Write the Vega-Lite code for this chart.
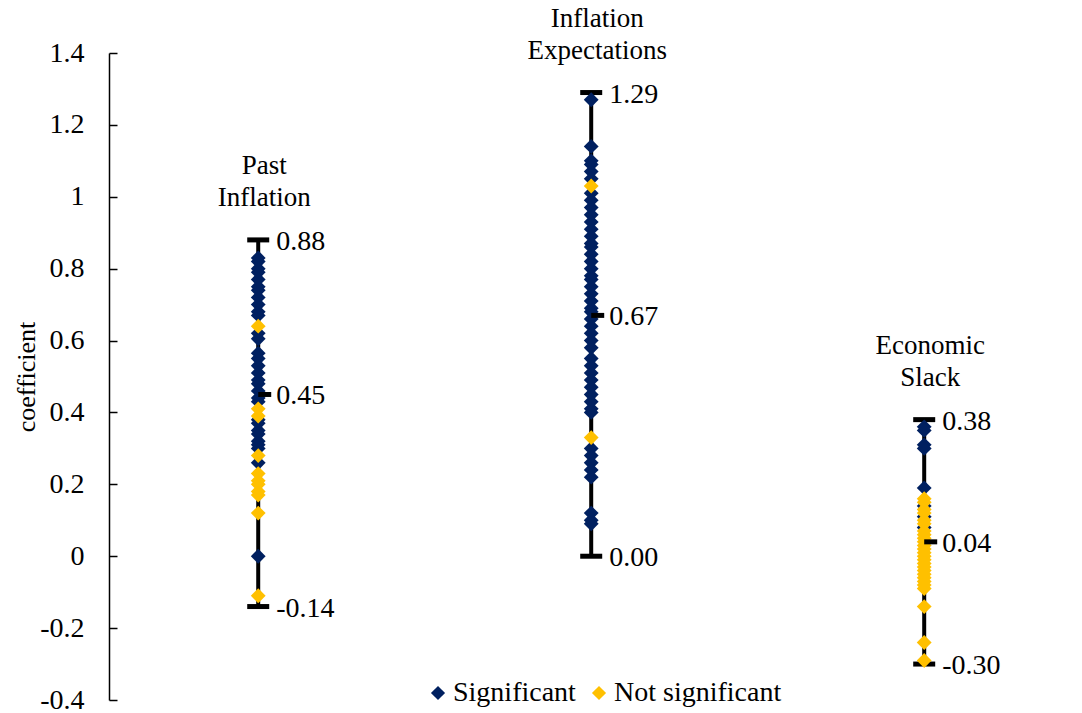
{
  "$schema": "https://vega.github.io/schema/vega-lite/v6.json",
  "width": 975,
  "height": 647,
  "autosize": {"type": "none"},
  "padding": {"left": 100, "top": 53, "right": 7, "bottom": 13},
  "background": "white",
  "config": {
    "view": {"stroke": null},
    "font": "Liberation Serif",
    "locale": {"number": {"decimal": ".", "thousands": ",", "grouping": [3], "currency": ["$", ""], "minus": "-"}}
  },
  "datasets": {
    "ranges": [
      {"category": "Past Inflation", "min": -0.14, "max": 0.88, "mean": 0.45},
      {"category": "Inflation Expectations", "min": 0.0, "max": 1.29, "mean": 0.67},
      {"category": "Economic Slack", "min": -0.30, "max": 0.38, "mean": 0.04}
    ],
    "points": [
      {"category": "Past Inflation", "value": 0.83, "group": "Significant"},
      {"category": "Past Inflation", "value": 0.82, "group": "Significant"},
      {"category": "Past Inflation", "value": 0.80, "group": "Significant"},
      {"category": "Past Inflation", "value": 0.79, "group": "Significant"},
      {"category": "Past Inflation", "value": 0.77, "group": "Significant"},
      {"category": "Past Inflation", "value": 0.75, "group": "Significant"},
      {"category": "Past Inflation", "value": 0.74, "group": "Significant"},
      {"category": "Past Inflation", "value": 0.72, "group": "Significant"},
      {"category": "Past Inflation", "value": 0.70, "group": "Significant"},
      {"category": "Past Inflation", "value": 0.68, "group": "Significant"},
      {"category": "Past Inflation", "value": 0.67, "group": "Significant"},
      {"category": "Past Inflation", "value": 0.62, "group": "Significant"},
      {"category": "Past Inflation", "value": 0.605, "group": "Significant"},
      {"category": "Past Inflation", "value": 0.565, "group": "Significant"},
      {"category": "Past Inflation", "value": 0.55, "group": "Significant"},
      {"category": "Past Inflation", "value": 0.53, "group": "Significant"},
      {"category": "Past Inflation", "value": 0.51, "group": "Significant"},
      {"category": "Past Inflation", "value": 0.49, "group": "Significant"},
      {"category": "Past Inflation", "value": 0.48, "group": "Significant"},
      {"category": "Past Inflation", "value": 0.46, "group": "Significant"},
      {"category": "Past Inflation", "value": 0.44, "group": "Significant"},
      {"category": "Past Inflation", "value": 0.43, "group": "Significant"},
      {"category": "Past Inflation", "value": 0.38, "group": "Significant"},
      {"category": "Past Inflation", "value": 0.37, "group": "Significant"},
      {"category": "Past Inflation", "value": 0.35, "group": "Significant"},
      {"category": "Past Inflation", "value": 0.34, "group": "Significant"},
      {"category": "Past Inflation", "value": 0.32, "group": "Significant"},
      {"category": "Past Inflation", "value": 0.31, "group": "Significant"},
      {"category": "Past Inflation", "value": 0.30, "group": "Significant"},
      {"category": "Past Inflation", "value": 0.26, "group": "Significant"},
      {"category": "Past Inflation", "value": 0.00, "group": "Significant"},
      {"category": "Inflation Expectations", "value": 1.27, "group": "Significant"},
      {"category": "Inflation Expectations", "value": 1.14, "group": "Significant"},
      {"category": "Inflation Expectations", "value": 1.10, "group": "Significant"},
      {"category": "Inflation Expectations", "value": 1.09, "group": "Significant"},
      {"category": "Inflation Expectations", "value": 1.07, "group": "Significant"},
      {"category": "Inflation Expectations", "value": 1.05, "group": "Significant"},
      {"category": "Inflation Expectations", "value": 1.01, "group": "Significant"},
      {"category": "Inflation Expectations", "value": 0.99, "group": "Significant"},
      {"category": "Inflation Expectations", "value": 0.97, "group": "Significant"},
      {"category": "Inflation Expectations", "value": 0.95, "group": "Significant"},
      {"category": "Inflation Expectations", "value": 0.93, "group": "Significant"},
      {"category": "Inflation Expectations", "value": 0.91, "group": "Significant"},
      {"category": "Inflation Expectations", "value": 0.89, "group": "Significant"},
      {"category": "Inflation Expectations", "value": 0.87, "group": "Significant"},
      {"category": "Inflation Expectations", "value": 0.86, "group": "Significant"},
      {"category": "Inflation Expectations", "value": 0.84, "group": "Significant"},
      {"category": "Inflation Expectations", "value": 0.82, "group": "Significant"},
      {"category": "Inflation Expectations", "value": 0.80, "group": "Significant"},
      {"category": "Inflation Expectations", "value": 0.78, "group": "Significant"},
      {"category": "Inflation Expectations", "value": 0.77, "group": "Significant"},
      {"category": "Inflation Expectations", "value": 0.75, "group": "Significant"},
      {"category": "Inflation Expectations", "value": 0.73, "group": "Significant"},
      {"category": "Inflation Expectations", "value": 0.71, "group": "Significant"},
      {"category": "Inflation Expectations", "value": 0.69, "group": "Significant"},
      {"category": "Inflation Expectations", "value": 0.68, "group": "Significant"},
      {"category": "Inflation Expectations", "value": 0.66, "group": "Significant"},
      {"category": "Inflation Expectations", "value": 0.64, "group": "Significant"},
      {"category": "Inflation Expectations", "value": 0.62, "group": "Significant"},
      {"category": "Inflation Expectations", "value": 0.60, "group": "Significant"},
      {"category": "Inflation Expectations", "value": 0.58, "group": "Significant"},
      {"category": "Inflation Expectations", "value": 0.55, "group": "Significant"},
      {"category": "Inflation Expectations", "value": 0.53, "group": "Significant"},
      {"category": "Inflation Expectations", "value": 0.51, "group": "Significant"},
      {"category": "Inflation Expectations", "value": 0.49, "group": "Significant"},
      {"category": "Inflation Expectations", "value": 0.47, "group": "Significant"},
      {"category": "Inflation Expectations", "value": 0.45, "group": "Significant"},
      {"category": "Inflation Expectations", "value": 0.43, "group": "Significant"},
      {"category": "Inflation Expectations", "value": 0.41, "group": "Significant"},
      {"category": "Inflation Expectations", "value": 0.40, "group": "Significant"},
      {"category": "Inflation Expectations", "value": 0.30, "group": "Significant"},
      {"category": "Inflation Expectations", "value": 0.28, "group": "Significant"},
      {"category": "Inflation Expectations", "value": 0.26, "group": "Significant"},
      {"category": "Inflation Expectations", "value": 0.24, "group": "Significant"},
      {"category": "Inflation Expectations", "value": 0.22, "group": "Significant"},
      {"category": "Inflation Expectations", "value": 0.12, "group": "Significant"},
      {"category": "Inflation Expectations", "value": 0.10, "group": "Significant"},
      {"category": "Inflation Expectations", "value": 0.09, "group": "Significant"},
      {"category": "Economic Slack", "value": 0.36, "group": "Significant"},
      {"category": "Economic Slack", "value": 0.35, "group": "Significant"},
      {"category": "Economic Slack", "value": 0.31, "group": "Significant"},
      {"category": "Economic Slack", "value": 0.30, "group": "Significant"},
      {"category": "Economic Slack", "value": 0.19, "group": "Significant"},
      {"category": "Economic Slack", "value": 0.14, "group": "Significant"},
      {"category": "Economic Slack", "value": 0.11, "group": "Significant"},
      {"category": "Economic Slack", "value": 0.08, "group": "Significant"},
      {"category": "Past Inflation", "value": 0.64, "group": "Not significant"},
      {"category": "Past Inflation", "value": 0.41, "group": "Not significant"},
      {"category": "Past Inflation", "value": 0.39, "group": "Not significant"},
      {"category": "Past Inflation", "value": 0.28, "group": "Not significant"},
      {"category": "Past Inflation", "value": 0.23, "group": "Not significant"},
      {"category": "Past Inflation", "value": 0.21, "group": "Not significant"},
      {"category": "Past Inflation", "value": 0.20, "group": "Not significant"},
      {"category": "Past Inflation", "value": 0.18, "group": "Not significant"},
      {"category": "Past Inflation", "value": 0.17, "group": "Not significant"},
      {"category": "Past Inflation", "value": 0.12, "group": "Not significant"},
      {"category": "Past Inflation", "value": -0.11, "group": "Not significant"},
      {"category": "Inflation Expectations", "value": 1.03, "group": "Not significant"},
      {"category": "Inflation Expectations", "value": 0.33, "group": "Not significant"},
      {"category": "Economic Slack", "value": 0.16, "group": "Not significant"},
      {"category": "Economic Slack", "value": 0.15, "group": "Not significant"},
      {"category": "Economic Slack", "value": 0.13, "group": "Not significant"},
      {"category": "Economic Slack", "value": 0.12, "group": "Not significant"},
      {"category": "Economic Slack", "value": 0.10, "group": "Not significant"},
      {"category": "Economic Slack", "value": 0.09, "group": "Not significant"},
      {"category": "Economic Slack", "value": 0.07, "group": "Not significant"},
      {"category": "Economic Slack", "value": 0.06, "group": "Not significant"},
      {"category": "Economic Slack", "value": 0.05, "group": "Not significant"},
      {"category": "Economic Slack", "value": 0.04, "group": "Not significant"},
      {"category": "Economic Slack", "value": 0.03, "group": "Not significant"},
      {"category": "Economic Slack", "value": 0.02, "group": "Not significant"},
      {"category": "Economic Slack", "value": 0.01, "group": "Not significant"},
      {"category": "Economic Slack", "value": 0.00, "group": "Not significant"},
      {"category": "Economic Slack", "value": -0.01, "group": "Not significant"},
      {"category": "Economic Slack", "value": -0.02, "group": "Not significant"},
      {"category": "Economic Slack", "value": -0.03, "group": "Not significant"},
      {"category": "Economic Slack", "value": -0.04, "group": "Not significant"},
      {"category": "Economic Slack", "value": -0.05, "group": "Not significant"},
      {"category": "Economic Slack", "value": -0.06, "group": "Not significant"},
      {"category": "Economic Slack", "value": -0.07, "group": "Not significant"},
      {"category": "Economic Slack", "value": -0.08, "group": "Not significant"},
      {"category": "Economic Slack", "value": -0.09, "group": "Not significant"},
      {"category": "Economic Slack", "value": -0.14, "group": "Not significant"},
      {"category": "Economic Slack", "value": -0.24, "group": "Not significant"},
      {"category": "Economic Slack", "value": -0.29, "group": "Not significant"}
    ]
  },
  "layer": [
    {
      "mark": {"type": "rule", "color": "#d9d9d9", "strokeWidth": 1.5},
      "encoding": {
        "y": {
          "datum": 0,
          "type": "quantitative",
          "title": "coefficient",
          "scale": {"domain": [-0.4, 1.4], "nice": false, "zero": false},
          "axis": {
            "values": [-0.4, -0.2, 0, 0.2, 0.4, 0.6, 0.8, 1, 1.2, 1.4],
            "format": ".1~f",
            "grid": false,
            "offset": -9,
            "domainColor": "black",
            "domainWidth": 1.5,
            "tickColor": "black",
            "tickWidth": 1.5,
            "tickSize": -8,
            "labelPadding": 33,
            "labelFont": "Liberation Serif",
            "labelFontSize": 28,
            "labelColor": "black",
            "labelFlush": false,
            "labelOverlap": false,
            "titleFont": "Liberation Serif",
            "titleFontSize": 26,
            "titleFontWeight": "normal",
            "titleColor": "black",
            "titlePadding": 0
          }
        }
      }
    },
    {
      "data": {"name": "ranges"},
      "mark": {"type": "rule", "color": "black", "strokeWidth": 4},
      "encoding": {
        "x": {"field": "category", "type": "nominal", "scale": {"type": "point", "domain": ["Past Inflation", "Inflation Expectations", "Economic Slack"], "padding": 0.464, "align": 0.512}, "axis": null},
        "y": {"field": "min", "type": "quantitative", "title": "coefficient"},
        "y2": {"field": "max"}
      }
    },
    {
      "data": {"name": "ranges"},
      "mark": {"type": "tick", "color": "black", "size": 22, "thickness": 5, "opacity": 1},
      "encoding": {
        "x": {"field": "category", "type": "nominal"},
        "y": {"field": "min", "type": "quantitative", "title": "coefficient"}
      }
    },
    {
      "data": {"name": "ranges"},
      "mark": {"type": "tick", "color": "black", "size": 22, "thickness": 5, "opacity": 1},
      "encoding": {
        "x": {"field": "category", "type": "nominal"},
        "y": {"field": "max", "type": "quantitative", "title": "coefficient"}
      }
    },
    {
      "data": {"name": "points"},
      "mark": {"type": "point", "shape": "diamond", "filled": true, "opacity": 1, "size": 220, "strokeWidth": 0},
      "encoding": {
        "x": {"field": "category", "type": "nominal"},
        "y": {"field": "value", "type": "quantitative", "title": "coefficient"},
        "color": {
          "field": "group",
          "type": "nominal",
          "scale": {"domain": ["Significant", "Not significant"], "range": ["#002060", "#FFC000"]},
          "legend": {
            "title": null,
            "orient": "none",
            "direction": "horizontal",
            "legendX": 324,
            "legendY": 626,
            "symbolType": "diamond",
            "symbolSize": 200,
            "symbolStrokeWidth": 0,
            "labelFont": "Liberation Serif",
            "labelFontSize": 28,
            "labelColor": "black",
            "labelLimit": 0,
            "labelOffset": 1,
            "columnPadding": 9
          }
        }
      }
    },
    {
      "data": {"name": "ranges"},
      "mark": {"type": "tick", "color": "black", "size": 13, "thickness": 5, "opacity": 1, "xOffset": 6.5},
      "encoding": {
        "x": {"field": "category", "type": "nominal"},
        "y": {"field": "mean", "type": "quantitative", "title": "coefficient"}
      }
    },
    {
      "data": {"name": "ranges"},
      "mark": {"type": "text", "align": "left", "baseline": "middle", "dx": 18, "dy": 2, "fontSize": 28, "color": "black"},
      "encoding": {
        "x": {"field": "category", "type": "nominal"},
        "y": {"field": "max", "type": "quantitative", "title": "coefficient"},
        "text": {"field": "max", "format": ".2f"}
      }
    },
    {
      "data": {"name": "ranges"},
      "mark": {"type": "text", "align": "left", "baseline": "middle", "dx": 18, "dy": 2, "fontSize": 28, "color": "black"},
      "encoding": {
        "x": {"field": "category", "type": "nominal"},
        "y": {"field": "min", "type": "quantitative", "title": "coefficient"},
        "text": {"field": "min", "format": ".2f"}
      }
    },
    {
      "data": {"name": "ranges"},
      "mark": {"type": "text", "align": "left", "baseline": "middle", "dx": 18, "dy": 2, "fontSize": 28, "color": "black"},
      "encoding": {
        "x": {"field": "category", "type": "nominal"},
        "y": {"field": "mean", "type": "quantitative", "title": "coefficient"},
        "text": {"field": "mean", "format": ".2f"}
      }
    },
    {
      "data": {"name": "ranges"},
      "mark": {"type": "text", "align": "center", "baseline": "bottom", "dx": 6, "dy": -60, "fontSize": 27, "lineHeight": 32, "lineBreak": " ", "color": "black"},
      "encoding": {
        "x": {"field": "category", "type": "nominal"},
        "y": {"field": "max", "type": "quantitative", "title": "coefficient"},
        "text": {"field": "category"}
      }
    }
  ]
}
